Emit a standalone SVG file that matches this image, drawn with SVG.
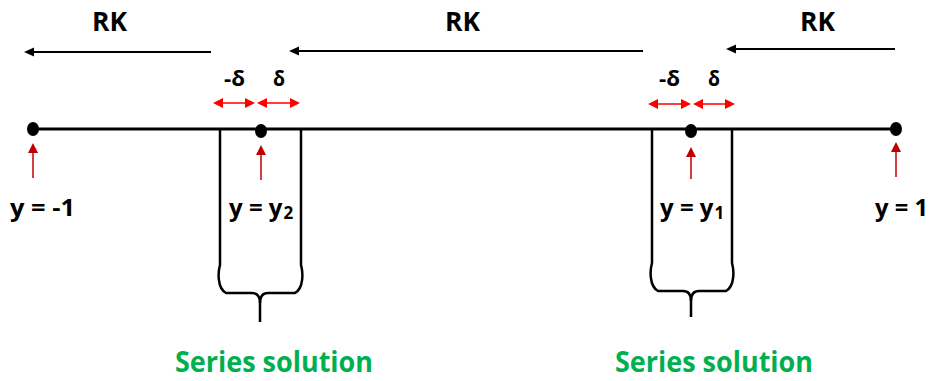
<svg xmlns="http://www.w3.org/2000/svg" width="933" height="381" viewBox="0 0 933 381">
  <style>
    text { font-family: "Open Sans", "Liberation Sans", sans-serif; font-weight: 700; fill: #000; }
    .rk { font-size: 27px; }
    .dl { font-size: 21px; }
    .pt { font-size: 24px; }
    .sub { font-size: 17px; }
    .ser { font-size: 28px; fill: #00B050; }
    .axis { stroke: #000; stroke-width: 3; fill: none; }
    .flow { stroke: #000; stroke-width: 2; fill: none; marker-end: url(#blackHead); }
    .span { stroke: #FF0000; stroke-width: 1.5; fill: none; marker-start: url(#redHead); marker-end: url(#redHead); }
    .mark { stroke: #C00000; stroke-width: 1.5; fill: none; marker-end: url(#darkRedHead); }
    .brace { stroke: #000; stroke-width: 2.5; fill: none; stroke-linejoin: round; }
    .dot { fill: #000; }
  </style>
  <defs>
    <marker id="blackHead" markerUnits="userSpaceOnUse" markerWidth="10" markerHeight="10" refX="4" refY="5" orient="auto">
      <path d="M0,0.5 L10,5 L0,9.5 z" fill="#000"/>
    </marker>
    <marker id="redHead" markerUnits="userSpaceOnUse" markerWidth="10" markerHeight="10" refX="4" refY="5" orient="auto-start-reverse">
      <path d="M0,0 L10,5 L0,10 z" fill="#FF0000"/>
    </marker>
    <marker id="darkRedHead" markerUnits="userSpaceOnUse" markerWidth="10" markerHeight="10" refX="4" refY="5" orient="auto">
      <path d="M0,0 L10,5 L0,10 z" fill="#C00000"/>
    </marker>
  </defs>

  <!-- integration direction arrows and the y axis -->
  <g id="connectors">
    <path class="flow" d="M211,52 L30,52"/>
    <path class="flow" d="M643,51 L295,51"/>
    <path class="flow" d="M895,49 L732,49"/>
    <path class="axis" d="M33,129 L896,129"/>
    <path class="span" d="M219,103 L249,103"/>
    <path class="span" d="M263,103 L294,103"/>
    <path class="span" d="M654,104 L685,104"/>
    <path class="span" d="M699,104 L729,104"/>
    <path class="mark" d="M33,178 L33,149"/>
    <path class="mark" d="M261,180 L261,151"/>
    <path class="mark" d="M691,179 L691,153"/>
    <path class="mark" d="M896,177 L896,148"/>
  </g>

  <g id="rk-labels">
    <text class="rk" x="92" y="31" textLength="35" lengthAdjust="spacingAndGlyphs">RK</text>
    <text class="rk" x="445" y="31" textLength="35" lengthAdjust="spacingAndGlyphs">RK</text>
    <text class="rk" x="800" y="31" textLength="35" lengthAdjust="spacingAndGlyphs">RK</text>
  </g>

  <g id="point-minus-one">
    <ellipse class="dot" cx="33" cy="129" rx="6" ry="7"/>
    <text class="pt" x="10" y="216" textLength="65" lengthAdjust="spacingAndGlyphs">y = -1</text>
  </g>

  <g id="point-y2">
    <ellipse class="dot" cx="261" cy="131" rx="6" ry="7"/>
    <text class="dl" x="224" y="86" textLength="21" lengthAdjust="spacingAndGlyphs">-δ</text>
    <text class="dl" x="273" y="86" textLength="12" lengthAdjust="spacingAndGlyphs">δ</text>
    <path class="brace" d="M220,129 L220,265 C218,272 217,288 226,293 L252,293 C257,293 260,296 260,303 L260,322"/>
    <path class="brace" d="M301,129 L301,265 C303,272 304,288 295,293 L268,293 C263,293 260,296 260,303"/>
    <text class="pt" x="229" y="216">y = y<tspan class="sub" dx="1" dy="3">2</tspan></text>
    <text class="ser" x="175" y="372" textLength="198" lengthAdjust="spacingAndGlyphs">Series solution</text>
  </g>

  <g id="point-y1">
    <ellipse class="dot" cx="691" cy="131" rx="6" ry="7"/>
    <text class="dl" x="659" y="86" textLength="21" lengthAdjust="spacingAndGlyphs">-δ</text>
    <text class="dl" x="708" y="86" textLength="12" lengthAdjust="spacingAndGlyphs">δ</text>
    <path class="brace" d="M652,129 L652,263 C650,270 649,286 658,291 L683,291 C688,291 691,294 691,301 L691,317"/>
    <path class="brace" d="M732,129 L732,263 C734,270 735,286 726,291 L699,291 C694,291 691,294 691,301"/>
    <text class="pt" x="660" y="216">y = y<tspan class="sub" dx="1" dy="3">1</tspan></text>
    <text class="ser" x="615" y="372" textLength="198" lengthAdjust="spacingAndGlyphs">Series solution</text>
  </g>

  <g id="point-plus-one">
    <ellipse class="dot" cx="896" cy="129" rx="6" ry="7"/>
    <text class="pt" x="875" y="216" textLength="53" lengthAdjust="spacingAndGlyphs">y = 1</text>
  </g>
</svg>
